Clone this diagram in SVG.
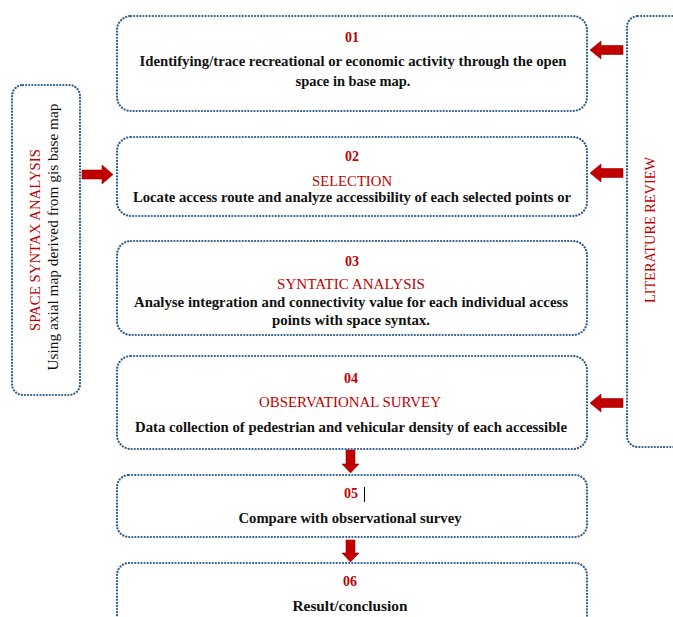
<svg xmlns="http://www.w3.org/2000/svg" width="673" height="617" viewBox="0 0 673 617">
<style>
.box{fill:#fff;stroke:#2E5C8A;stroke-width:2.2;stroke-dasharray:0.1 3;stroke-linecap:round}
.num{font-family:"Liberation Serif",serif;font-weight:bold;font-size:14px;fill:#C00000;text-anchor:middle}
.head{font-family:"Liberation Serif",serif;font-size:15px;fill:#C00000;text-anchor:middle}
.txt{font-family:"Liberation Serif",serif;font-weight:bold;font-size:14.5px;fill:#111;text-anchor:middle}
.side{font-family:"Liberation Serif",serif;font-size:15px;fill:#111;text-anchor:middle}
.arr{fill:#C00000;stroke:#A00000;stroke-width:0.6}
</style>
<rect width="673" height="617" fill="#fff"/>
<g id="connectors">
<path class="arr" d="M82,170 L102,170 L102,165 L113,174.5 L102,184 L102,179 L82,179 Z"/>
<path class="arr" d="M623,45.5 L601,45.5 L601,41 L590,50 L601,59 L601,54.5 L623,54.5 Z"/>
<path class="arr" d="M623,168.5 L601,168.5 L601,164 L590,173 L601,182 L601,177.5 L623,177.5 Z"/>
<path class="arr" d="M623,398.5 L601,398.5 L601,394 L590,403 L601,412 L601,407.5 L623,407.5 Z"/>
<path class="arr" d="M346,450 L355,450 L355,464 L359,464 L350.5,473 L342,464 L346,464 Z"/>
<path class="arr" d="M346,540 L355,540 L355,553 L359,553 L350.5,562 L342,553 L346,553 Z"/>
</g>
<g id="n-space">
<rect class="box" x="12" y="85" width="68" height="310" rx="11"/>
<text class="head" transform="translate(40,240) rotate(-90)" textLength="182" lengthAdjust="spacingAndGlyphs">SPACE SYNTAX ANALYSIS</text>
<text class="side" transform="translate(58,237) rotate(-90)" textLength="267" lengthAdjust="spacingAndGlyphs">Using axial map derived from gis base map</text>
</g>
<g id="n-lit">
<rect class="box" x="627" y="16" width="80" height="431" rx="11"/>
<text class="head" transform="translate(655,230) rotate(-90)" textLength="146" lengthAdjust="spacingAndGlyphs">LITERATURE REVIEW</text>
</g>
<g id="n1">
<rect class="box" x="117" y="16" width="470" height="95" rx="14"/>
<text class="num" x="352" y="42">01</text>
<text class="txt" x="353" y="66" textLength="427" lengthAdjust="spacingAndGlyphs">Identifying/trace recreational or economic activity through the open</text>
<text class="txt" x="353" y="86" textLength="115" lengthAdjust="spacingAndGlyphs">space in base map.</text>
</g>
<g id="n2">
<rect class="box" x="117" y="137" width="470" height="79" rx="14"/>
<text class="num" x="352" y="161">02</text>
<text class="head" x="352" y="186" textLength="80" lengthAdjust="spacingAndGlyphs">SELECTION</text>
<text class="txt" x="352" y="202" textLength="438" lengthAdjust="spacingAndGlyphs">Locate access route and analyze accessibility of each selected points or</text>
</g>
<g id="n3">
<rect class="box" x="117" y="241" width="470" height="94" rx="14"/>
<text class="num" x="352" y="266">03</text>
<text class="head" x="351" y="289" textLength="148" lengthAdjust="spacingAndGlyphs">SYNTATIC ANALYSIS</text>
<text class="txt" x="351" y="307" textLength="434" lengthAdjust="spacingAndGlyphs">Analyse integration and connectivity value for each individual access</text>
<text class="txt" x="351" y="325" textLength="158" lengthAdjust="spacingAndGlyphs">points with space syntax.</text>
</g>
<g id="n4">
<rect class="box" x="117" y="356" width="470" height="93" rx="14"/>
<text class="num" x="351" y="383">04</text>
<text class="head" x="350" y="407" textLength="182" lengthAdjust="spacingAndGlyphs">OBSERVATIONAL SURVEY</text>
<text class="txt" x="351" y="432" textLength="432" lengthAdjust="spacingAndGlyphs">Data collection of pedestrian and vehicular density of each accessible</text>
</g>
<g id="n5">
<rect class="box" x="117" y="475" width="470" height="62" rx="12"/>
<text class="num" x="351" y="498">05</text>
<line x1="364.5" y1="487" x2="364.5" y2="502" stroke="#000" stroke-width="1"/>
<text class="txt" x="350" y="523" textLength="223" lengthAdjust="spacingAndGlyphs">Compare with observational survey</text>
</g>
<g id="n6">
<rect class="box" x="117" y="563" width="470" height="80" rx="12"/>
<text class="num" x="350" y="586">06</text>
<text class="txt" x="350" y="611" textLength="115" lengthAdjust="spacingAndGlyphs">Result/conclusion</text>
</g>
</svg>
